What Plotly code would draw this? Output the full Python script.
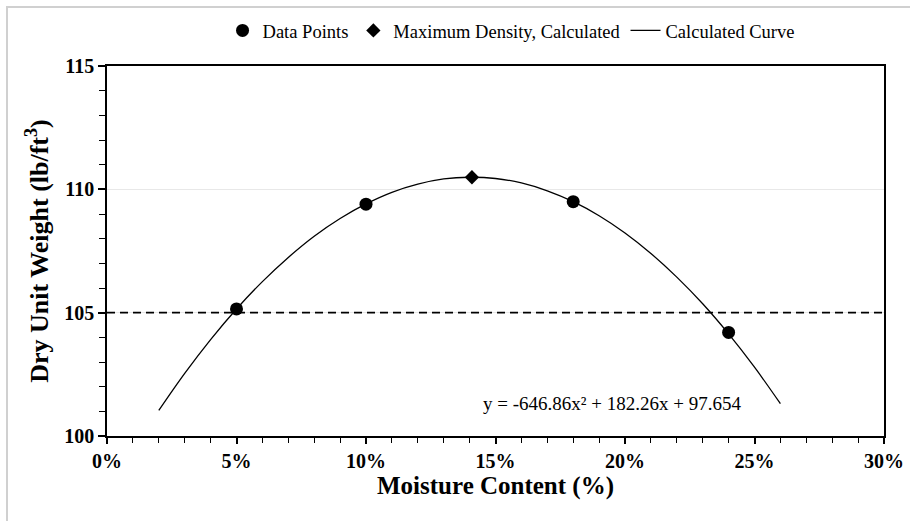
import plotly.graph_objects as go

# Measured data points
data_x = [0.05, 0.10, 0.18, 0.24]
data_y = [105.15, 109.4, 109.5, 104.2]

# Calculated maximum density
max_x = [0.1409]
max_y = [110.49]

# Calculated curve
curve_x = [0.02, 0.03, 0.04, 0.05, 0.06, 0.07, 0.08, 0.09, 0.10, 0.11, 0.12, 0.13,
           0.14, 0.15, 0.16, 0.17, 0.18, 0.19, 0.20, 0.21, 0.22, 0.23, 0.24, 0.25, 0.26]
curve_y = [101.04, 102.54, 103.91, 105.15, 106.26, 107.24, 108.10, 108.82, 109.41,
           109.88, 110.21, 110.42, 110.49, 110.44, 110.26, 109.94, 109.50, 108.93,
           108.23, 107.40, 106.44, 105.36, 104.14, 102.79, 101.31]

ref_level = 105
equation = "y = -646.86x² + 182.26x + 97.654"

FONT = "Liberation Serif"

fig = go.Figure()
fig.add_trace(go.Scatter(x=data_x, y=data_y, mode="markers", name="Data Points",
                         marker=dict(symbol="circle", size=13, color="black")))
fig.add_trace(go.Scatter(x=max_x, y=max_y, mode="markers", name="Maximum Density, Calculated",
                         marker=dict(symbol="diamond", size=11, color="black")))
fig.add_trace(go.Scatter(x=curve_x, y=curve_y, mode="lines", name="Calculated Curve",
                         line=dict(color="black", width=1.3, shape="spline")))

fig.add_shape(type="line", xref="paper", yref="y", x0=0, x1=1, y0=ref_level, y1=ref_level,
              line=dict(color="black", width=1.6, dash="8px,5px"), layer="above")
# outer chart border
fig.add_shape(type="rect", xref="paper", yref="paper", x0=-0.1287, x1=1.2, y0=-0.4, y1=1.1595,
              line=dict(color="#d0d0d0", width=2), layer="below")

fig.add_annotation(x=0.195, y=101.3, text=equation, showarrow=False,
                   font=dict(family=FONT, size=19, color="black"))

fig.update_layout(
    width=910, height=521,
    margin=dict(l=107, r=26, t=66, b=85, autoexpand=False),
    paper_bgcolor="white", plot_bgcolor="white",
    font=dict(family=FONT, color="black"),
    showlegend=True,
    legend=dict(orientation="h", x=0.52, xanchor="center", y=1.095, yanchor="middle",
                font=dict(family=FONT, size=18.5), traceorder="normal", itemwidth=30),
    xaxis=dict(range=[0, 0.3], dtick=0.05, tickformat=".0%", showgrid=False, zeroline=False,
               showline=True, linecolor="black", linewidth=1.5, mirror=True,
               ticks="outside", ticklen=6, tickwidth=1.5, tickcolor="black",
               minor=dict(dtick=0.01, ticks="outside", ticklen=5, tickwidth=1.2, tickcolor="black"),
               tickfont=dict(family=FONT, size=20, color="black", weight="bold"),
               title=dict(text="Moisture Content (%)", standoff=6,
                          font=dict(family=FONT, size=25, color="black", weight="bold"))),
    yaxis=dict(range=[100, 115], dtick=5, showgrid=True, gridcolor="#e8e8e8", gridwidth=1,
               zeroline=False, showline=True, linecolor="black", linewidth=1.5, mirror=True,
               ticks="outside", ticklen=7, tickwidth=1.5, tickcolor="black",
               minor=dict(dtick=1, ticks="outside", ticklen=6, tickwidth=1.2, tickcolor="black",
                          showgrid=False),
               tickfont=dict(family=FONT, size=20, color="black", weight="bold"),
               title=dict(text="Dry Unit Weight (lb/ft<sup>3</sup>)", standoff=8,
                          font=dict(family=FONT, size=26, color="black", weight="bold"))),
)

fig.write_html("out.html")
